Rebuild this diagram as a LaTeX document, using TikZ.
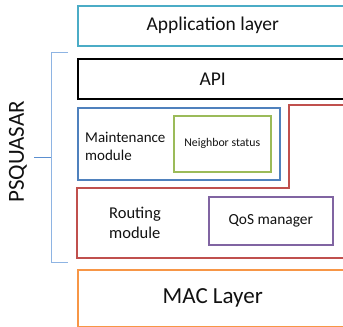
\documentclass[tikz,border=0pt]{standalone}
\usepackage{fontspec}
\setmainfont{Carlito}
\definecolor{appc}{HTML}{4BACC6}
\definecolor{mntc}{HTML}{4F81BD}
\definecolor{nbc}{HTML}{9BBB59}
\definecolor{rtc}{HTML}{C0504D}
\definecolor{qosc}{HTML}{8064A2}
\definecolor{macc}{HTML}{F79646}
\definecolor{brc}{HTML}{8EB4E3}
\definecolor{tickc}{HTML}{5B8FD0}
\definecolor{txtc}{HTML}{111111}
\begin{document}
\begin{tikzpicture}[x=1bp,y=-1bp,
  box/.style={draw, line width=1.5bp, rectangle, anchor=north west, inner sep=0pt, text=txtc},
  lbl/.style={inner sep=0pt, text=txtc, align=left}]
\useasboundingbox (0,0) rectangle (343,327);
\clip (0,0) rectangle (343,327);
% Application layer
\node[box, draw=appc, minimum width=270bp, minimum height=40bp, font=\fontsize{19.5bp}{22bp}\selectfont] (app) at (77,5) {Application layer};
% API
\node[box, draw=black, minimum width=270bp, minimum height=40bp, font=\fontsize{19.5bp}{22bp}\selectfont] (api) at (77,58) {API};
% Maintenance module
\node[box, draw=mntc, minimum width=202bp, minimum height=72bp] (mnt) at (77,107) {};
\node[lbl, anchor=north west, font=\fontsize{15bp}{18bp}\selectfont] (mntl) at (85,132) {Maintenance\\module};
% Neighbor status
\node[box, draw=nbc, minimum width=97bp, minimum height=56bp, font=\fontsize{11.8bp}{14bp}\selectfont] (nb) at (173,115) {Neighbor status};
% Routing module (L-shaped)
\coordinate (r1) at (350,105);
\coordinate (r2) at (289,105);
\coordinate (r3) at (289,188);
\coordinate (r4) at (77,188);
\coordinate (r5) at (77,258);
\coordinate (r6) at (350,258);
\draw[rtc, line width=1.5bp, line join=miter] (r1) -- (r2) -- (r3) -- (r4) -- (r5) -- (r6);
\node[lbl, anchor=north west, font=\fontsize{16.5bp}{20bp}\selectfont] (rtl) at (109,207) {Routing\\module};
% QoS manager
\node[box, draw=qosc, minimum width=124bp, minimum height=48bp, font=\fontsize{15.4bp}{18bp}\selectfont] (qos) at (208,196) {QoS manager};
% MAC layer
\node[box, draw=macc, minimum width=270bp, minimum height=57bp, font=\fontsize{23bp}{26bp}\selectfont] (mac) at (77,269) {MAC Layer};
% PSQUASAR bracket
\coordinate (bt) at (68,52);
\coordinate (btl) at (51,52);
\coordinate (bbl) at (51,262);
\coordinate (bb) at (68,262);
\coordinate (bm) at (51,157);
\coordinate (bmt) at (34,157);
\node[inner sep=0pt, rotate=90, text=txtc, font=\fontsize{23bp}{26bp}\selectfont] (ps) at (18,152) {PSQUASAR};
\draw[brc, line width=1bp] (bt) -- (btl) -- (bbl) -- (bb);
\draw[tickc, line width=1bp] (bmt) -- (bm);
\end{tikzpicture}
\end{document}
